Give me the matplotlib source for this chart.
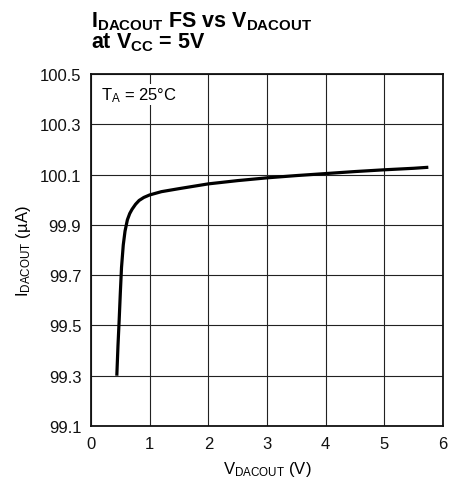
import matplotlib
matplotlib.use("Agg")
import matplotlib.pyplot as plt
from matplotlib import font_manager

fams = {f.name for f in font_manager.fontManager.ttflist}
narrow = "Liberation Sans Narrow" if "Liberation Sans Narrow" in fams else "Liberation Sans"
plt.rcParams['font.family'] = [narrow, 'DejaVu Sans']
plt.rcParams['mathtext.fontset'] = 'custom'
plt.rcParams['mathtext.rm'] = narrow
plt.rcParams['mathtext.it'] = narrow
plt.rcParams['mathtext.bf'] = narrow + ':bold'

v_dacout = [0.44, 0.46, 0.48, 0.50, 0.52, 0.55, 0.58, 0.62, 0.66, 0.70, 0.76, 0.82, 0.90,
            1.0, 1.2, 1.5, 2.0, 2.5, 3.0, 3.5, 4.0, 4.5, 5.0, 5.5, 5.75]
i_dacout = [99.30, 99.42, 99.52, 99.63, 99.73, 99.82, 99.875, 99.92, 99.945, 99.962, 99.982, 99.997, 100.009,
            100.019, 100.032, 100.044, 100.063, 100.076, 100.087, 100.096, 100.104, 100.112, 100.119, 100.125, 100.129]
x_ticks = [0, 1, 2, 3, 4, 5, 6]
y_ticks = [99.1, 99.3, 99.5, 99.7, 99.9, 100.1, 100.3, 100.5]
y_tick_labels = ["99.1", "99.3", "99.5", "99.7", "99.9", "100.1", "100.3", "100.5"]

W, H = 461, 485
fig = plt.figure(figsize=(W / 100, H / 100), dpi=100)
ax = fig.add_axes([91 / W, 1 - 427 / H, (443 - 91) / W, (427 - 75) / H])

ax.plot(v_dacout, i_dacout, color='black', lw=2.3, solid_joinstyle='round', solid_capstyle='butt', zorder=3)
ax.set_xlim(0, 6)
ax.set_ylim(99.1, 100.5)
ax.set_xticks(x_ticks)
ax.set_yticks(y_ticks)
ax.set_yticklabels(y_tick_labels)
ax.grid(True, color='#222222', lw=0.8)
ax.tick_params(length=0, labelsize=12, pad=7, colors='#111111')
for s in ax.spines.values():
    s.set_linewidth(1.3)
    s.set_color('#111111')

ax.text(0.17, 100.455, r'T$_\mathregular{A}$ = 25°C', fontsize=12, va='top', ha='left',
        bbox=dict(facecolor='white', edgecolor='none', pad=1), zorder=4)

ax.set_xlabel(r'V$_\mathregular{DACOUT}$ (V)', fontsize=12, labelpad=6)
ax.set_ylabel(r'I$_\mathregular{DACOUT}$ (µA)', fontsize=12, labelpad=5)

fig.text(91 / W, 1 - 10 / H,
         r'I$_\mathbf{DACOUT}$ FS vs V$_\mathbf{DACOUT}$' + '\n' + r'at V$_\mathbf{CC}$ = 5V',
         fontsize=15.5, fontweight='bold', va='top', ha='left', linespacing=0.95)

fig.savefig('out.png', dpi=100)
